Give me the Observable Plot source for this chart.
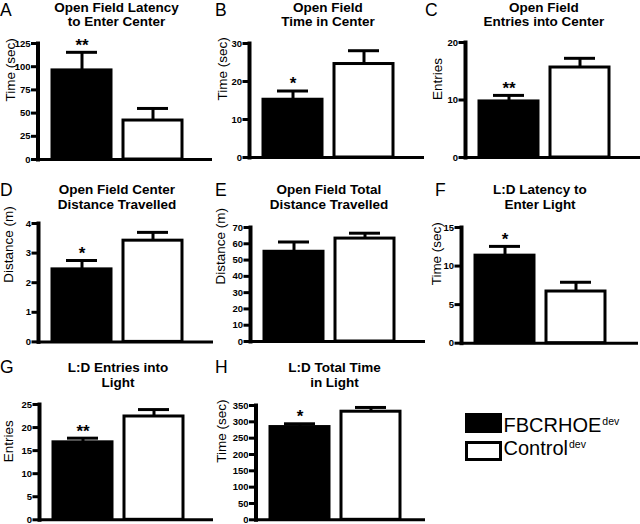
<!DOCTYPE html>
<html>
<head>
<meta charset="utf-8">
<script src="https://cdn.jsdelivr.net/npm/d3@7"></script>
<script src="https://cdn.jsdelivr.net/npm/@observablehq/plot@0.6"></script>
<style>
  html, body { margin: 0; padding: 0; background: #fff; }
  #root { position: relative; width: 640px; height: 524px; overflow: hidden; font-family: "Liberation Sans", Arial, sans-serif; color: #000; }
  .abs { position: absolute; }
  .letter { font-size: 17.5px; line-height: 17.5px; white-space: nowrap; }
  .title { font-size: 13.5px; font-weight: bold; line-height: 14.5px; text-align: center; width: 200px; white-space: nowrap; }
  .legtext { font-size: 20px; line-height: 20px; white-space: nowrap; }
  .legtext sup { font-size: 10.5px; position: relative; top: -7px; vertical-align: baseline; margin-left: 1px; }
</style>
</head>
<body>
<div id="root"></div>
<script>
// ---- data ----
const groups = ["FBCRHOE", "Control"];
const groupColors = ["black", "white"];
const panelLetters = ["A", "B", "C", "D", "E", "F", "G", "H"];
const titleLine1 = ["Open Field Latency", "Open Field", "Open Field", "Open Field Center", "Open Field Total", "L:D Latency to", "L:D Entries into", "L:D Total Time"];
const titleLine2 = ["to Enter Center", "Time in Center", "Entries into Center", "Distance Travelled", "Distance Travelled", "Enter Light", "Light", "in Light"];
const yLabels = ["Time (sec)", "Time (sec)", "Entries", "Distance (m)", "Distance (m)", "Time (sec)", "Entries", "Time (sec)"];
const meanFBCRHOE = [96, 15.2, 9.75, 2.45, 55.1, 11.35, 16.8, 284];
const semFBCRHOE  = [19.5, 2.3, 1.05, 0.3, 6, 1.2, 0.9, 10];
const meanControl = [42, 24.6, 15.65, 3.42, 63.2, 6.7, 22.4, 331];
const semControl  = [13, 3.5, 1.6, 0.28, 3.3, 1.2, 1.5, 13];
const significance = ["**", "*", "**", "*", "", "*", "**", "*"];
const yMax = [125, 30, 20, 4, 70, 15, 25, 350];
const yTicks = [
  [0, 25, 50, 75, 100, 125],
  [0, 10, 20, 30],
  [0, 10, 20],
  [0, 1, 2, 3, 4],
  [0, 10, 20, 30, 40, 50, 60, 70],
  [0, 5, 10, 15],
  [0, 5, 10, 15, 20, 25],
  [0, 50, 100, 150, 200, 250, 300, 350]
];
const legendLabels = ["FBCRHOE", "Control"];
const legendSup = "dev";

// ---- layout (pixels) ----
const colX = [0, 210, 420, 0, 210, 420, 0, 210];
const axisX = [37.5, 249, 465, 38, 250, 461, 39, 255.5];
const rightX = [212, 424, 640, 213, 425, 638, 213, 425];
const topY = [43.3, 42.7, 41.7, 223.3, 226.7, 227, 404, 404.5];
const baseY = [159.3, 156.7, 156.7, 341.7, 340.7, 342.7, 519.3, 518.8];
const labelOffset = [27.5, 26.5, 27.5, 30, 30, 25, 31, 34.5];
const letterPos = [[0, 2], [215, 2], [425, 2], [0, 181.5], [215, 181.5], [435, 181.5], [0, 358.5], [215, 358.5]];
const titleTop = [0.5, 0.5, 0.5, 183, 183, 183, 361, 361];

const root = document.getElementById("root");
const FONT = "'Liberation Sans', Arial, sans-serif";

for (let i = 0; i < 8; i++) {
  const data = groups.map((g, j) => {
    const mean = j === 0 ? meanFBCRHOE[i] : meanControl[i];
    const sem = j === 0 ? semFBCRHOE[i] : semControl[i];
    return {group: g, mean, top: mean + sem, sig: j === 0 ? significance[i] : ""};
  });
  const mt = 22, mb = 3, mr = 2;
  const ml = axisX[i] - colX[i];
  const width = rightX[i] - colX[i] + mr;
  const height = mt + (baseY[i] - topY[i]) + mb;

  const chart = Plot.plot({
    width, height,
    marginLeft: ml, marginRight: mr, marginTop: mt, marginBottom: mb,
    style: {fontFamily: FONT, color: "#000", background: "transparent", overflow: "visible"},
    x: {type: "band", domain: groups, range: [ml + 14, ml + 144], paddingInner: 0.17, paddingOuter: 0, axis: null},
    y: {domain: [0, yMax[i]], axis: null},
    color: {domain: groups, range: groupColors},
    marks: [
      Plot.barY(data, {x: "group", y: "mean", fill: "group", stroke: "black", strokeWidth: 3}),
      Plot.ruleX(data, {x: "group", y1: "mean", y2: "top", stroke: "black", strokeWidth: 3}),
      Plot.tickY(data, {x: "group", y: "top", stroke: "black", strokeWidth: 3, inset: 14}),
      Plot.ruleY([0], {stroke: "black", strokeWidth: 3}),
      Plot.frame({anchor: "left", stroke: "black", strokeWidth: 4}),
      Plot.axisY({ticks: yTicks[i], tickSize: 6.5, tickFormat: () => "", stroke: "black", strokeWidth: 3, label: null}),
      Plot.text(yTicks[i], {y: d => d, frameAnchor: "left", text: d => String(d), textAnchor: "end", dx: -7.5, fontSize: 9.5, fontWeight: "bold", fill: "black"}),
      Plot.text([yLabels[i]], {frameAnchor: "left", rotate: -90, dx: -labelOffset[i], fontSize: 13.5, fill: "black"}),
      Plot.text(data.filter(d => d.sig), {x: "group", y: "top", text: "sig", dy: -7, fontSize: 17, fontWeight: "bold", fill: "black"})
    ]
  });
  const holder = document.createElement("div");
  holder.className = "abs";
  holder.style.left = colX[i] + "px";
  holder.style.top = (topY[i] - mt) + "px";
  holder.style.width = width + "px";
  holder.style.height = height + "px";
  holder.appendChild(chart);
  root.appendChild(holder);

  const letter = document.createElement("div");
  letter.className = "abs letter";
  letter.style.left = letterPos[i][0] + "px";
  letter.style.top = letterPos[i][1] + "px";
  letter.textContent = panelLetters[i];
  root.appendChild(letter);

  const title = document.createElement("div");
  title.className = "abs title";
  const center = axisX[i] + 79;
  title.style.left = (center - 100) + "px";
  title.style.top = titleTop[i] + "px";
  title.innerHTML = titleLine1[i] + "<br>" + titleLine2[i];
  root.appendChild(title);
}

// legend
const legRects = [[465, 413], [465, 441]];
const legTextTop = [415, 438];
legendLabels.forEach((lab, j) => {
  const r = document.createElement("div");
  r.className = "abs";
  r.style.left = legRects[j][0] + "px";
  r.style.top = legRects[j][1] + "px";
  r.style.width = "37px";
  r.style.height = "20px";
  r.style.boxSizing = "border-box";
  r.style.background = groupColors[j];
  r.style.border = "3px solid black";
  root.appendChild(r);
  const t = document.createElement("div");
  t.className = "abs legtext";
  t.style.left = "503.5px";
  t.style.top = legTextTop[j] + "px";
  t.innerHTML = lab + "<sup>" + legendSup + "</sup>";
  root.appendChild(t);
});
</script>
</body>
</html>
